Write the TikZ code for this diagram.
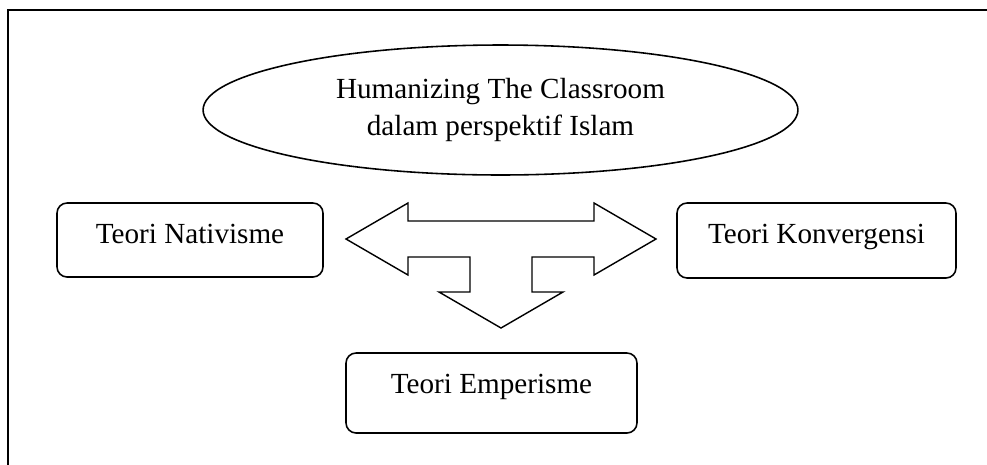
\documentclass[tikz,border=0pt]{standalone}
\usepackage{fontspec}
\setmainfont{Liberation Serif}
\usetikzlibrary{shapes.geometric, calc}

\begin{document}
\begin{tikzpicture}[
        x=0.02cm, y=-0.02cm,
        box/.style={draw, line width=0.9pt, rounded corners=0.2cm, align=center, font=\fontsize{16.6}{21}\selectfont, inner sep=0pt},
        oval/.style={draw, ellipse, line width=0.9pt, align=center, inner sep=0pt, minimum width=11.9cm, minimum height=2.6cm, font=\fontsize{16.6}{21}\selectfont},
        bigarrow/.style={draw, line width=0.8pt, line join=miter}
    ]
        \clip (0,0) rectangle (987,464);

        % outer frame (runs past the right and lower edges)
        \draw[line width=1.1pt] (8,10) rectangle (989,480);

        \node[oval] (islam) at (500.5,110) {Humanizing The Classroom\\dalam perspektif Islam};

        \node[box, minimum width=5.32cm, minimum height=1.48cm, text height=0.4cm, text depth=0.28cm] (nativ) at (190,240) {Teori Nativisme};
        \node[box, minimum width=5.58cm, minimum height=1.5cm, text height=0.4cm, text depth=0.28cm] (konv) at (816.5,240.5) {Teori Konvergensi};
        \node[box, minimum width=5.82cm, minimum height=1.6cm, text height=0.4cm, text depth=0.4cm] (emper) at (491.5,393) {Teori Emperisme};

        % three-way block arrow between the theories
        \coordinate (hub) at (501,239);
        \begin{scope}[shift={(hub)}]
            \draw[bigarrow] (-155,0) -- (-93,-36) -- (-93,-18) -- (93,-18) -- (93,-36) -- (155,0)
                -- (93,36) -- (93,18) -- (31,18) -- (31,53) -- (62,53) -- (0,89)
                -- (-62,53) -- (-31,53) -- (-31,18) -- (-93,18) -- (-93,36) -- cycle;
        \end{scope}
    \end{tikzpicture}
\end{document}
